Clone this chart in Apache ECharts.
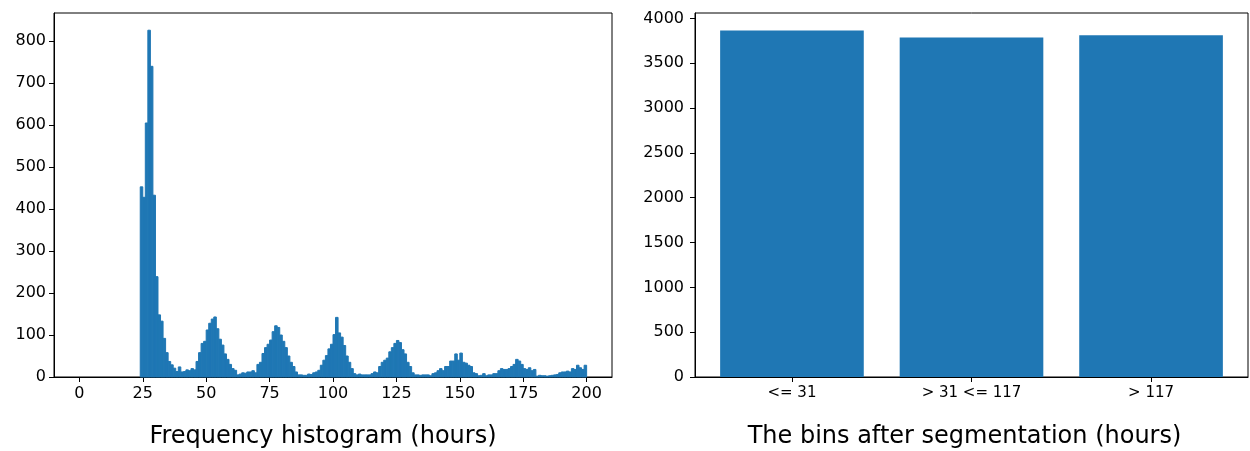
<!DOCTYPE html>
<html>
<head>
<meta charset="utf-8">
<script src="https://cdn.jsdelivr.net/npm/echarts@6/dist/echarts.min.js"></script>
<style>
  html, body { margin: 0; padding: 0; background: #fff; }
  #chart { width: 1250px; height: 451px; }
</style>
</head>
<body>
<div id="chart"></div>
<script>
// histogram: one bar per hour, first non-empty bin starts at hour 24
const histStart = 24;
const binWidth = 1;
const histCounts = [
  453, 428, 605, 826, 740, 433, 239, 148, 133, 92,
  58, 37, 29, 21, 13, 24, 12, 13, 17, 15,
  20, 17, 37, 58, 80, 85, 112, 128, 138, 143,
  115, 90, 76, 55, 42, 30, 20, 16, 5, 7,
  10, 9, 12, 12, 15, 10, 30, 35, 56, 70,
  78, 88, 108, 122, 118, 100, 85, 70, 50, 35,
  25, 12, 5, 5, 4, 4, 7, 6, 10, 12,
  16, 28, 40, 51, 67, 78, 101, 142, 105, 95,
  75, 50, 35, 20, 8, 5, 7, 5, 5, 5,
  5, 8, 12, 10, 25, 35, 40, 45, 60, 70,
  80, 87, 82, 65, 55, 35, 25, 10, 5, 5,
  4, 5, 5, 5, 3, 8, 10, 15, 20, 15,
  25, 25, 38, 38, 55, 40, 57, 35, 33, 28,
  25, 10, 8, 3, 4, 8, 3, 5, 5, 8,
  8, 15, 20, 18, 18, 20, 25, 30, 42, 38,
  30, 20, 18, 22, 15, 18, 2, 4, 3, 3,
  2, 3, 4, 5, 6, 10, 12, 12, 14, 12,
  20, 18, 28, 22, 18, 28
];
const histTicksX = [0, 25, 50, 75, 100, 125, 150, 175, 200];
const histTicksY = [0, 100, 200, 300, 400, 500, 600, 700, 800];

// segmented bins
const segCategories = ["<= 31", "> 31 <= 117", "> 117"];
const segCounts = [3866, 3788, 3812];
const segTicksY = [0, 500, 1000, 1500, 2000, 2500, 3000, 3500, 4000];

const BLUE = "#1f77b4";
const FONT = "DejaVu Sans";

const histData = histCounts.map((v, i) => [histStart + i, v]);
const segData = segCounts.map((v, i) => [i, v]);

function rectItem(halfLeft, halfRight, seam) {
  return function (params, api) {
    const x = api.value(0);
    const v = api.value(1);
    const p0 = api.coord([x - halfLeft, v]);
    const p1 = api.coord([x + halfRight, 0]);
    return {
      type: "rect",
      shape: { x: p0[0], y: p0[1], width: p1[0] - p0[0], height: p1[1] - p0[1] },
      style: seam ? { fill: BLUE, stroke: BLUE, lineWidth: 1 } : { fill: BLUE },
    };
  };
}

const tickLabel = { color: "#000", fontFamily: FONT, fontSize: 16 };
const titleText = { color: "#000", fontFamily: FONT, fontSize: 24 };
const lineStyle = { color: "#000", width: 1 };
const plain = (v) => String(v);

const chart = echarts.init(document.getElementById("chart"), null, { renderer: "canvas" });
chart.setOption({
  animation: false,
  grid: [
    {
      left: 54, top: 13, width: 558, height: 364,
      outerBoundsMode: "none", containLabel: false,
      show: true, borderColor: "#000", borderWidth: 1,
    },
    {
      left: 695, top: 13, width: 553, height: 364,
      outerBoundsMode: "none", containLabel: false,
      show: true, borderColor: "#000", borderWidth: 1,
    },
  ],
  xAxis: [
    {
      gridIndex: 0,
      type: "value",
      min: -10,
      max: 210,
      name: "Frequency histogram (hours)",
      nameLocation: "middle",
      nameGap: 48,
      nameTextStyle: { ...titleText, padding: [0, 20, 0, 0] },
      axisLine: { show: true, onZero: false, lineStyle },
      axisTick: { show: true, length: 5, lineStyle, customValues: histTicksX },
      axisLabel: { ...tickLabel, margin: 9, customValues: histTicksX, formatter: plain },
      splitLine: { show: false },
    },
    {
      gridIndex: 1,
      type: "value",
      min: -0.54,
      max: 2.54,
      name: "The bins after segmentation (hours)",
      nameLocation: "middle",
      nameGap: 48,
      nameTextStyle: { ...titleText, padding: [0, 14, 0, 0] },
      axisLine: { show: true, onZero: false, lineStyle },
      axisTick: { show: true, length: 5, lineStyle, customValues: [0, 1, 2] },
      axisLabel: {
        ...tickLabel,
        fontSize: 15,
        margin: 9,
        customValues: [0, 1, 2],
        formatter: (v) => segCategories[Math.round(v)],
      },
      splitLine: { show: false },
    },
  ],
  yAxis: [
    {
      gridIndex: 0,
      type: "value",
      min: 0,
      max: 867,
      axisLine: { show: true, onZero: false, lineStyle },
      axisTick: { show: true, length: 5, lineStyle, customValues: histTicksY },
      axisLabel: { ...tickLabel, margin: 8, customValues: histTicksY, formatter: plain },
      splitLine: { show: false },
    },
    {
      gridIndex: 1,
      type: "value",
      min: 0,
      max: 4060,
      axisLine: { show: true, onZero: false, lineStyle },
      axisTick: { show: true, length: 5, lineStyle, customValues: segTicksY },
      axisLabel: { ...tickLabel, margin: 11, customValues: segTicksY, formatter: plain },
      splitLine: { show: false },
    },
  ],
  series: [
    {
      type: "custom",
      xAxisIndex: 0,
      yAxisIndex: 0,
      encode: { x: 0, y: 1 },
      data: histData,
      renderItem: rectItem(0, binWidth, true),
    },
    {
      type: "custom",
      xAxisIndex: 1,
      yAxisIndex: 1,
      encode: { x: 0, y: 1 },
      data: segData,
      renderItem: rectItem(0.4, 0.4, false),
    },
  ],
});
</script>
</body>
</html>
